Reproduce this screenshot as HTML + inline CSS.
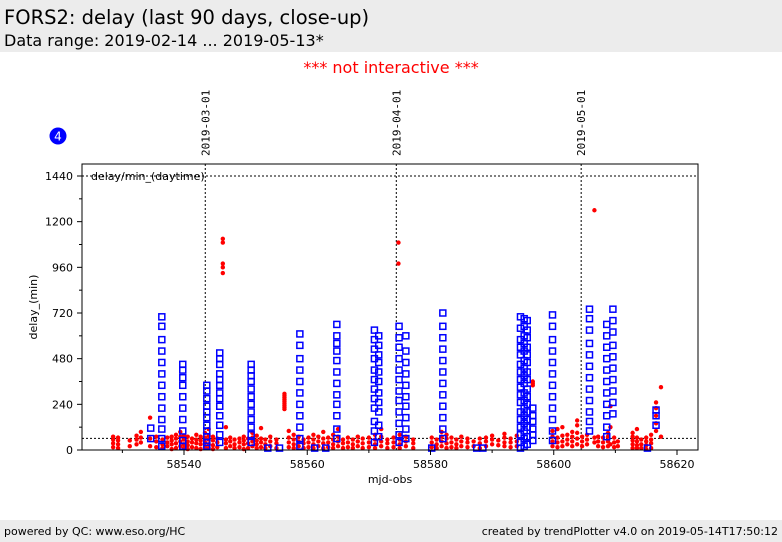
<!DOCTYPE html>
<html><head><meta charset="utf-8"><style>
body{margin:0;width:782px;height:542px;background:#fff;font-family:"DejaVu Sans","Liberation Sans",sans-serif;overflow:hidden;position:relative}
.hdr{position:absolute;left:0;top:0;width:782px;height:52px;background:#ececec}
.t1{position:absolute;left:4px;top:6px;font-size:19.5px;color:#000}
.t2{position:absolute;left:4px;top:31px;font-size:16px;color:#000}
.ni{position:absolute;left:0;width:782px;top:58px;text-align:center;color:#f00;font-size:16px}
.ftr{position:absolute;left:0;top:520px;width:782px;height:22px;background:#ececec;font-size:11px}
</style></head><body>
<div class="hdr">
<div class="t1">FORS2: delay (last 90 days, close-up)</div>
<div class="t2">Data range: 2019-02-14 ... 2019-05-13*</div>
</div>
<div class="ni">*** not interactive ***</div>
<svg id="chart" width="782" height="542" style="position:absolute;left:0;top:0"></svg>
<div class="ftr">
<span style="position:absolute;left:4px;top:5px">powered by QC: www.eso.org/HC</span>
<span style="position:absolute;right:4px;top:5px">created by trendPlotter v4.0 on 2019-05-14T17:50:12</span>
</div>
<script>
const xTicks=[58540,58560,58580,58600,58620];
const xMinor=[58530,58550,58570,58590,58610];
const yTicks=[0,240,480,720,960,1200,1440];
const yMinor=[120,360,600,840,1080,1320];
const dateLines=[[58543.45,"2019-03-01"],[58574.45,"2019-04-01"],[58604.45,"2019-05-01"]];
const refLevels=[1440,61];
const blueCols=[
[58534.6,[115,60]],
[58536.4,[700,650,580,520,460,400,340,280,220,160,110,60,20]],
[58539.8,[450,420,380,340,280,220,160,100,50,20]],
[58543.7,[340,310,270,230,200,170,130,100,70,40,20]],
[58545.8,[510,480,450,400,370,340,300,270,230,180,130,80,40]],
[58550.9,[450,420,390,360,320,280,240,200,160,120,80,40]],
[58553.6,[10]],[58555.5,[10]],
[58558.8,[610,550,480,420,360,300,240,180,120,60,20]],
[58561.2,[10]],[58563,[10]],
[58564.8,[660,600,560,520,470,410,350,290,240,180,110,60]],
[58570.9,[630,580,530,480,420,370,320,270,220,150,100,40]],
[58571.6,[600,550,500,460,410,360,300,250,200,130,70]],
[58574.9,[650,590,540,480,420,370,310,260,200,140,80,40]],
[58576,[600,520,460,400,340,280,230,170,110,60]],
[58580.2,[10]],
[58582,[720,650,590,530,470,410,350,290,230,170,110,60]],
[58587.5,[10]],[58588.5,[10]],
[58594.6,[700,640,580,540,500,450,410,370,330,290,250,200,160,120,80,40,10]],
[58595.2,[690,650,600,560,520,470,430,390,350,300,260,220,180,140,100,60,20]],
[58595.7,[680,630,590,540,500,460,410,370,320,280,240,200,160,120,70,30]],
[58596.6,[220,180,150,110,80,50]],
[58599.8,[710,650,580,520,460,400,340,280,220,160,100,50]],
[58605.8,[740,690,630,560,500,440,380,320,260,200,150,100]],
[58608.6,[660,600,540,480,420,360,300,240,180,120,70]],
[58609.6,[740,680,620,550,490,430,370,310,250,190]],
[58615.2,[10]],
[58616.6,[210,180,130]]
];
const redCols=[
[58528.5,[15,35,55,70]],[58529.3,[10,30,50,65]],[58531.2,[20,50]],[58532.3,[30,55,75]],[58533,[40,65,95]],
[58534.5,[20,170,60]],[58535.5,[15,45,70]],[58536.5,[10,30,55]],[58537.3,[20,40,65]],[58538,[5,30,50,70]],
[58538.7,[10,35,60,80]],[58539.4,[20,45,70,95]],[58540,[10,30,55,75]],[58540.6,[5,25,45,70]],[58541.3,[15,40,60]],
[58542,[10,35,55,80]],[58542.7,[5,30,50,70]],[58543.4,[15,40,65,90]],[58544,[10,30,55,75,110]],[58544.7,[5,25,50,70]],
[58545.4,[15,40,60]],[58546.3,[930,960,980,1090,1110]],[58546.8,[10,35,55,120]],[58547.5,[20,45,65]],[58548.2,[10,30,55]],
[58549,[15,40,60]],[58549.7,[5,30,50,70]],[58550.4,[10,35,60]],[58551.1,[20,45,65,90]],[58551.8,[10,30,50,75]],
[58552.5,[15,40,60,115]],[58553.2,[10,30,55]],[58554,[20,45,70]],[58555,[10,35,55]],[58556.3,[215,225,235,245,255,265,275,285,295]],
[58557,[15,40,65,100]],[58557.8,[10,30,55,80]],[58558.6,[20,45,70]],[58559.4,[10,35,55]],[58560.2,[15,40,65]],
[58561,[10,30,55,80]],[58561.8,[20,45,70]],[58562.6,[10,35,60,95]],[58563.4,[15,40,65]],[58564.2,[10,30,55,80]],
[58565,[20,45,70,110]],[58565.8,[10,35,55]],[58566.6,[15,40,65]],[58567.4,[10,30,55]],[58568.2,[20,45,70]],
[58569,[10,35,60]],[58570,[15,40,65]],[58571,[10,30,55,80]],[58572,[20,45,70,110]],[58573,[10,35,55]],
[58574,[15,40,65]],[58574.8,[980,1090]],[58575,[10,30,55,80]],[58576,[20,45,70]],[58577.2,[10,35,55]],
[58580.2,[15,40,65]],[58581,[10,30,55]],[58581.8,[20,45,70,95]],[58582.6,[10,35,60,80]],[58583.4,[15,40,65]],
[58584.2,[10,30,55]],[58585,[20,45,70]],[58586,[15,40,60]],[58587,[20,45]],[58588,[10,35,60]],
[58589,[20,45,65]],[58590,[30,55,75]],[58591,[25,50]],[58592,[20,40,65,85]],[58593,[15,40,60]],
[58594,[20,45,75]],[58596.6,[340,350,360]],[58599.8,[20,45,70,100]],[58600.6,[15,40,65,110]],[58601.4,[20,45,75,120]],
[58602.2,[30,55,80]],[58603,[20,45,70,95]],[58603.8,[30,60,90,130,155]],[58604.6,[20,45,70]],[58605.4,[30,55,80]],
[58606.6,[1260,40,65]],[58607.2,[20,45,70]],[58608,[15,40,65]],[58608.8,[20,45,70,90]],[58609.2,[230,120,30]],
[58609.8,[15,40,65]],[58610.4,[20,45]],[58612.8,[10,30,50,70,90]],[58613.5,[10,25,45,65,110]],[58614.2,[10,30,55]],
[58615,[5,25,45,65]],[58615.8,[10,35,55,80]],[58616.6,[100,140,180,220,250]],[58617.4,[70,330]]
];
const NS="http://www.w3.org/2000/svg";
const svg=document.getElementById('chart');
const L=82,R=698,T=164,B=450;
const X=v=>184+(v-58540)*6.1625;
const Y=v=>450-v*0.19028;
function mk(tag,at,txt){const e=document.createElementNS(NS,tag);for(const k in at)e.setAttribute(k,at[k]);if(txt!==undefined)e.textContent=txt;svg.appendChild(e);return e;}
refLevels.forEach(v=>{const e=mk('line',{x1:L,x2:R,y1:Y(v),y2:Y(v),stroke:'#000','stroke-width':1,'stroke-dasharray':'2,2'});

});
dateLines.forEach(d=>{const x=X(d[0]);const e=mk('line',{x1:x,x2:x,y1:T,y2:B,stroke:'#000','stroke-width':1,'stroke-dasharray':'2,2'});


const t=mk('text',{x:0,y:0,transform:`translate(${x+4},156) rotate(-90)`,'font-family':'"DejaVu Sans Mono","Liberation Mono",monospace','font-size':11},d[1]);

});
redCols.forEach(c=>c[1].forEach(v=>{const e=mk('circle',{cx:X(c[0]),cy:Y(v),r:2.2,fill:'#f00'});

}));
blueCols.forEach(c=>c[1].forEach(v=>{const e=mk('rect',{x:X(c[0])-3,y:Y(v)-3,width:6,height:6,fill:'none',stroke:'#00f','stroke-width':1.5});

}));
const fr=mk('rect',{x:L,y:T,width:R-L,height:B-T,fill:'none',stroke:'#000','stroke-width':1});


xTicks.forEach(v=>{mk('line',{x1:X(v),x2:X(v),y1:B,y2:B+5,stroke:'#000'});
const t=mk('text',{x:X(v),y:B+18,'text-anchor':'middle','font-size':11},v);

});
xMinor.forEach(v=>mk('line',{x1:X(v),x2:X(v),y1:B,y2:B+3,stroke:'#000'}));
yTicks.forEach(v=>{mk('line',{x1:L-5,x2:L,y1:Y(v),y2:Y(v),stroke:'#000'});
const t=mk('text',{x:L-9,y:Y(v)+4,'text-anchor':'end','font-size':11},v);

});
yMinor.forEach(v=>mk('line',{x1:L-3,x2:L,y1:Y(v),y2:Y(v),stroke:'#000'}));
const xl=mk('text',{x:390,y:483,'text-anchor':'middle','font-size':11},'mjd-obs');


const yl=mk('text',{x:0,y:0,transform:'translate(37,307) rotate(-90)','text-anchor':'middle','font-size':11},'delay_(min)');


const il=mk('text',{x:91,y:180,'font-size':11},'delay/min_(daytime)');


const bc=mk('circle',{cx:58,cy:136,r:8.5,fill:'#00f'});


const bt=mk('text',{x:58,y:140.5,'text-anchor':'middle','font-size':12,fill:'#fff'},'4');


</script>
</body></html>
